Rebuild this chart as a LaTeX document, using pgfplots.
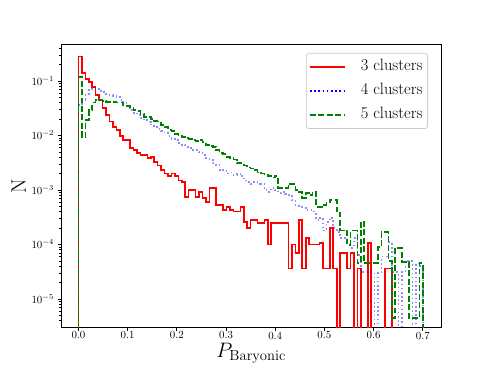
\RequirePackage{fix-cm}
\documentclass[border=0pt]{standalone}
\usepackage{fontspec}
\usepackage{pgfplots}
\usepackage{pgfplotstable}
\pgfplotsset{compat=1.18}
\definecolor{mplgreen}{rgb}{0,0.5,0}

% normalised histograms, 100 bins of width 0.007; 1e-7 stands for an empty bin
\pgfplotstableread{
x      red      blue     green
0.000  1e-7     1e-7     1e-7
0.000  0.28     0.036    0.118
0.007  0.14     0.045    0.0094
0.014  0.11     0.058    0.019
0.021  0.096    0.068    0.029
0.028  0.078    0.074    0.040
0.035  0.055    0.071    0.045
0.042  0.045    0.066    0.045
0.049  0.032    0.063    0.043
0.056  0.024    0.058    0.041
0.063  0.018    0.055    0.041
0.070  0.0143   0.053    0.041
0.077  0.0126   0.051    0.040
0.084  0.0098   0.045    0.040
0.091  0.0083   0.040    0.036
0.098  0.0083   0.035    0.035
0.105  0.0059   0.029    0.032
0.112  0.0054   0.026    0.029
0.119  0.0048   0.024    0.028
0.126  0.0044   0.021    0.025
0.133  0.0044   0.019    0.022
0.140  0.0039   0.018    0.022
0.147  0.0040   0.016    0.020
0.154  0.0033   0.0143   0.0185
0.161  0.0028   0.0132   0.018
0.168  0.0023   0.0121   0.0156
0.175  0.0020   0.011    0.0143
0.182  0.0018   0.0098   0.0126
0.189  0.0020   0.0087   0.0121
0.196  0.0018   0.0083   0.0107
0.203  0.0015   0.0073   0.0098
0.210  0.0014   0.0067   0.0094
0.217  0.00074  0.0062   0.0090
0.224  0.0010   0.0059   0.0087
0.231  0.0010   0.0054   0.0083
0.238  0.00074  0.0054   0.0080
0.245  0.00093  0.0050   0.0083
0.252  0.00072  0.0044   0.0076
0.259  0.00060  0.0039   0.0067
0.266  0.0011   0.0036   0.0064
0.273  0.0011   0.0031   0.0062
0.280  0.00053  0.0029   0.0054
0.287  0.00053  0.0023   0.0048
0.294  0.00043  0.0023   0.0046
0.301  0.00049  0.0020   0.0040
0.308  0.00043  0.0021   0.0039
0.315  0.00040  0.0019   0.0036
0.322  0.00040  0.0020   0.0031
0.329  0.00049  0.0018   0.0031
0.336  0.00026  0.0015   0.0028
0.343  0.00020  0.0014   0.0026
0.350  0.00028  0.0013   0.0025
0.357  0.00028  0.0014   0.0023
0.364  0.00025  0.0013   0.0021
0.371  0.00025  0.0013   0.0020
0.378  0.00028  0.0010   0.0019
0.385  0.00010  0.00093  0.0018
0.392  0.00025  0.0011   0.0017
0.399  0.00025  0.0010   0.0018
0.406  0.00025  0.00088  0.0011
0.413  0.00025  0.00093  0.0011
0.420  0.00025  0.00085  0.0011
0.427  0.000036 0.00081  0.0013
0.434  0.00010  0.00066  0.0013
0.441  0.00007  0.00053  0.0010
0.448  0.00028  0.00049  0.00093
0.455  0.000036 0.00047  0.00071
0.462  0.00013  0.00043  0.00089
0.469  0.00010  0.00043  0.00081
0.476  0.00010  0.00040  0.00093
0.483  0.00010  0.00028  0.00049
0.490  0.000107 0.00031  0.00049
0.497  0.000036 0.00018  0.00053
0.504  0.000036 0.00026  0.00060
0.511  0.00020  0.00031  0.00066
0.518  0.000036 0.00020  0.00066
0.525  1e-7     0.00017  0.00038
0.532  0.00007  0.00013  0.00018
0.539  0.00007  0.00013  0.00018
0.546  0.000036 0.00012  0.000099
0.553  0.00007  0.000086 0.00018
0.560  1e-7     0.00013  0.00018
0.567  0.000036 0.000064 0.000046
0.574  1e-7     0.000031 0.00026
0.581  1e-7     0.000031 0.000046
0.588  0.000107 0.000031 0.000046
0.595  1e-7     0.000031 0.000046
0.602  1e-7     1e-7     0.000046
0.609  1e-7     0.000031 0.00009
0.616  1e-7     0.00006  0.00017
0.623  0.000036 0.00006  0.00017
0.630  0.000036 0.00011  0.00005
0.637  1e-7     0.000031 0.0000045
0.644  1e-7     0.000031 0.000086
0.651  1e-7     1e-7     0.000086
0.658  1e-7     0.000031 0.000048
0.665  1e-7     0.00005  0.000048
0.672  1e-7     0.00005  0.0000045
0.679  1e-7     1e-7     0.0000045
0.686  1e-7     0.000045 0.0000045
0.693  1e-7     0.00004  0.000046
0.700  1e-7     1e-7     1e-7
}\histdata

\begin{document}
\begin{tikzpicture}
\begin{axis}[
    at={(0,0)}, anchor=south west,
    width=379.75bp, height=283.3bp, scale only axis,
    xmin=-0.035, xmax=0.737,
    ymode=log, ymin=3.0e-6, ymax=0.473,
    axis line style={line width=0.8bp},
    tick align=outside, xtick pos=bottom, ytick pos=left,
    xtick={0,0.1,0.2,0.3,0.4,0.5,0.6,0.7},
    xticklabels={0.0,0.1,0.2,0.3,0.4,0.5,0.6,0.7},
    ytick={1e-5,1e-4,1e-3,1e-2,1e-1},
    minor ytick={4e-6,5e-6,6e-6,7e-6,8e-6,9e-6,
        2e-5,3e-5,4e-5,5e-5,6e-5,7e-5,8e-5,9e-5,
        2e-4,3e-4,4e-4,5e-4,6e-4,7e-4,8e-4,9e-4,
        2e-3,3e-3,4e-3,5e-3,6e-3,7e-3,8e-3,9e-3,
        2e-2,3e-2,4e-2,5e-2,6e-2,7e-2,8e-2,9e-2,
        2e-1,3e-1,4e-1},
    major tick length=3.7bp, minor tick length=2.1bp,
    major tick style={black, line width=0.8bp},
    minor tick style={black, line width=0.6bp},
    tick label style={font=\fontsize{10.9}{12}\selectfont},
    xticklabel style={yshift=3bp},
    xlabel={$P_{\mathrm{Baryonic}}$},
    xlabel style={font=\fontsize{21}{25}\selectfont, at={(axis description cs:0.5,-0.107)}, anchor=base},
    ylabel={N},
    ylabel style={font=\fontsize{21}{25}\selectfont, at={(axis description cs:-0.112,0.5)}, anchor=center},
    legend style={at={(1,1)}, anchor=north east, xshift=-13bp, yshift=-8.7bp,
        draw=black!20, rounded corners=2.5bp, line width=0.8bp,
        font=\fontsize{16.5}{19}\selectfont, inner xsep=3bp, inner ysep=4.6bp,
        row sep=6bp, nodes={inner sep=2bp, text height=11bp, text depth=3bp},
        /tikz/every odd column/.append style={column sep=13bp}},
    legend cell align=left,
    legend image code/.code={\draw[#1] (0bp,0bp) -- (35bp,0bp);},
]
\addplot[const plot, red, line width=1.6bp, forget plot] table[x=x, y=red] {\histdata};
\addplot[const plot, blue, opacity=0.45, line width=1.6bp, dash pattern=on 1.6bp off 2.6bp, forget plot] table[x=x, y=blue] {\histdata};
\addplot[const plot, mplgreen, line width=1.6bp, dash pattern=on 5.9bp off 2.55bp, forget plot] table[x=x, y=green] {\histdata};

\addlegendimage{red, line width=1.6bp}
\addlegendentry{3 clusters}
\addlegendimage{blue, line width=1.6bp, dash pattern=on 1.6bp off 2.6bp}
\addlegendentry{4 clusters}
\addlegendimage{mplgreen, line width=1.6bp, dash pattern=on 5.9bp off 2.55bp}
\addlegendentry{5 clusters}
\end{axis}
\path (-61.25bp,-40.5bp) rectangle (428.75bp,327.5bp);
\end{tikzpicture}
\end{document}
